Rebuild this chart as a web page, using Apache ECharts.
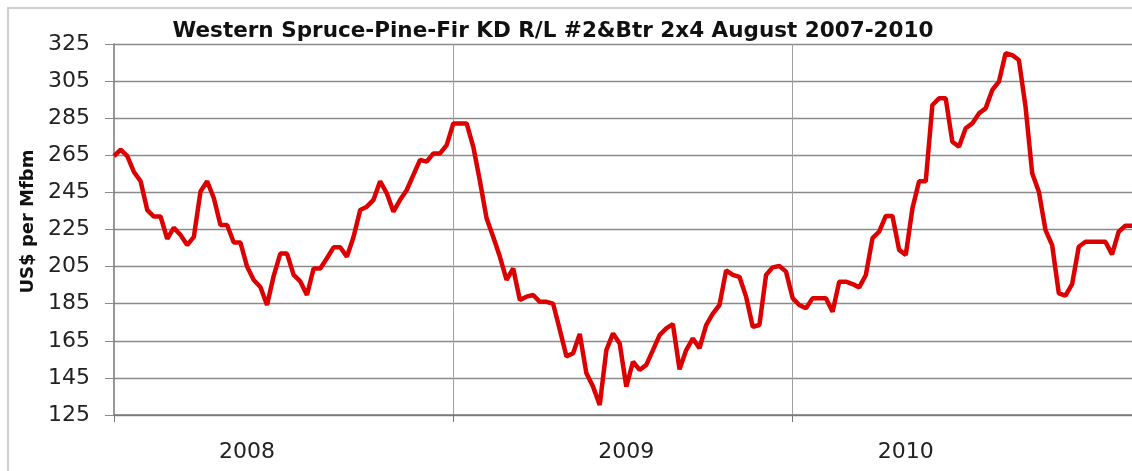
<!DOCTYPE html>
<html>
<head>
<meta charset="utf-8">
<title>Western SPF 2x4 prices</title>
<script src="https://cdn.jsdelivr.net/npm/echarts@6/dist/echarts.min.js"></script>
<style>
    html, body { margin: 0; padding: 0; background: #ffffff; }
    #chart { width: 1132px; height: 471px; }
</style>
</head>
<body>
<div id="chart"></div>
<script>
// Weekly prices, Aug 2007 - Aug 2010 (US$ per Mfbm)
const prices = [
    264.5, 268, 264.6, 256, 251, 235.5, 232, 232, 220, 226,
    222, 216.6, 221, 245.5, 251, 242, 227.4, 227.4, 218, 218,
    205, 197.8, 194, 184.3, 200, 212, 212, 200.5, 197, 189.7,
    204, 204, 209.5, 215.4, 215.4, 210.3, 221, 235.5, 237.3, 241,
    251, 244.5, 234.6, 241, 246.3, 254.4, 262.5, 261.6, 266, 266,
    270.5, 282.2, 282.2, 282.2, 269.6, 251, 231, 221, 210.3, 197.8,
    204, 187, 188.8, 189.7, 186, 186, 185, 171, 156.6, 158.3,
    168.7, 147.5, 140.3, 130.4, 160, 169, 163.6, 140.3, 153.7, 149.3,
    152, 160, 168.1, 171.7, 174, 149.6, 160, 166.3, 161, 173.5,
    179.7, 184.3, 203, 200.5, 199.5, 188.8, 172.6, 173.5, 200.5, 204.6,
    205.3, 202.3, 188, 184.3, 182.5, 188, 188, 188, 180.7, 196.9,
    196.9, 195.6, 193.8, 200.5, 220.3, 223.8, 232.3, 232.3, 214, 211.3,
    236.4, 251, 251, 292.1, 295.7, 295.7, 272.3, 269.6, 279.6, 282.2,
    287.6, 290.3, 300.2, 304.7, 320, 319, 316.4, 291.2, 255.3, 245.4,
    224.7, 216.6, 190.6, 189.3, 195.5, 215.7, 218.4, 218.4, 218.4, 218.4,
    211.6, 223.8, 227, 227
];

// one category per week
const weeks = prices.map((p, i) => 'W' + (i + 1));

// year dividers (week index where each August starts)
const yearStarts = [0, 51, 102];

// year labels and the week they sit under
const yearLabels = ['2008', '2009', '2010'];
const yearLabelWeeks = [20, 77, 119];

const titleText = 'Western Spruce-Pine-Fir KD R/L #2&Btr 2x4 August 2007-2010';
const yName = 'US$ per Mfbm';

const FONT = '"DejaVu Sans", "Liberation Sans", sans-serif';

const chart = echarts.init(document.getElementById('chart'));

const option = {
    backgroundColor: '#ffffff',
    animation: false,
    textStyle: { fontFamily: FONT },
    title: {
        text: titleText,
        left: 548,
        top: 15,
        textAlign: 'center',
        textStyle: {
            fontSize: 21.5,
            fontWeight: 'bold',
            color: '#111111',
            fontFamily: FONT
        }
    },
    graphic: [{
        type: 'rect',
        silent: true,
        shape: { x: 8, y: 8, width: 1300, height: 600 },
        style: { fill: 'none', stroke: '#cfcfcf', lineWidth: 2 }
    }],
    grid: {
        left: 114,
        right: 0,
        top: 44,
        bottom: 56
    },
    xAxis: {
        type: 'category',
        data: weeks,
        boundaryGap: false,
        axisLine: { lineStyle: { color: '#777777', width: 1.5 } },
        axisTick: {
            length: 7,
            interval: (i) => yearStarts.includes(i),
            lineStyle: { color: '#777777' }
        },
        axisLabel: {
            interval: (i) => yearLabelWeeks.includes(i),
            formatter: (v, i) => {
                const k = yearLabelWeeks.indexOf(i);
                return k >= 0 ? yearLabels[k] : '';
            },
            margin: 26,
            fontSize: 22,
            color: '#222222',
            fontFamily: FONT
        },
        splitLine: {
            show: true,
            interval: (i) => yearStarts.includes(i) && i > 0,
            lineStyle: { color: '#a0a0a0', width: 1 }
        }
    },
    yAxis: {
        type: 'value',
        min: 125,
        max: 325,
        interval: 20,
        name: yName,
        nameLocation: 'middle',
        nameGap: 63,
        nameTextStyle: {
            fontSize: 18,
            fontWeight: 'bold',
            color: '#111111',
            fontFamily: FONT,
            padding: [0, 0, 0, 16]
        },
        axisLine: { show: true, lineStyle: { color: '#777777', width: 1.5 } },
        axisTick: { show: true, length: 9, lineStyle: { color: '#8a8a8a' } },
        axisLabel: {
            margin: 24,
            fontSize: 22,
            color: '#222222',
            fontFamily: FONT
        },
        splitLine: { lineStyle: { color: '#8a8a8a', width: 1.3 } }
    },
    series: [{
        type: 'line',
        data: prices,
        showSymbol: false,
        lineStyle: { color: '#dd0000', width: 4.5 },
        itemStyle: { color: '#dd0000' }
    }]
};

chart.setOption(option);
</script>
</body>
</html>
